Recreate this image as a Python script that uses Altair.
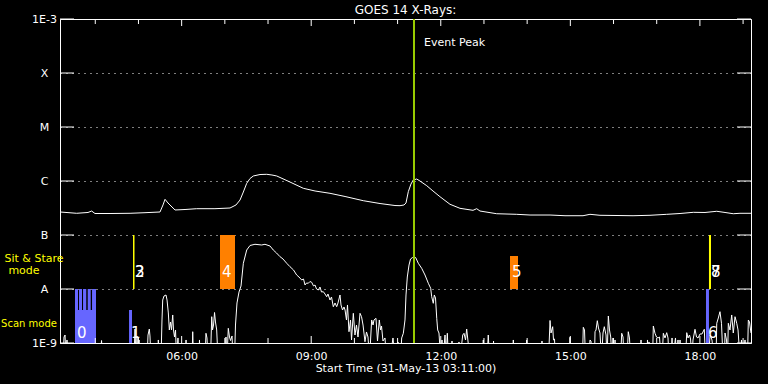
import altair as alt
import pandas as pd

W, H = 691, 324
F = "DejaVu Sans"
B = -9.3  # below the 1E-9 floor (clipped)

# time: minutes after 31-May-13 03:11:00 ; value: log10(flux)
upper = [
    (0, -6.574), (23.2, -6.598), (38.9, -6.583), (44.0, -6.556), (48.6, -6.602), (69.5, -6.602),
    (97.3, -6.598), (118.1, -6.587), (138.9, -6.574), (143.1, -6.444), (145.9, -6.339), (150.0, -6.407),
    (159.8, -6.537), (173.7, -6.528), (189.9, -6.513), (215.3, -6.513), (236.2, -6.500), (244.5, -6.444),
    (250.1, -6.352), (254.7, -6.204), (259.4, -6.043), (264.0, -5.954), (268.6, -5.907), (277.9, -5.880),
    (287.2, -5.876), (294.5, -5.889), (301.1, -5.907), (319.5, -6.019), (338.0, -6.135), (354.3, -6.185),
    (375.1, -6.228), (396.0, -6.287), (421.4, -6.365), (444.6, -6.417), (465.4, -6.454), (472.4, -6.457),
    (477.9, -6.444), (480.7, -6.407), (483.9, -6.198), (487.6, -6.056), (490.8, -5.981), (495.6, -5.963),
    (500.1, -6.000), (509.5, -6.087), (518.2, -6.185), (527.9, -6.291), (541.8, -6.431), (555.7, -6.506),
    (573.8, -6.543), (578.9, -6.513), (583.5, -6.556), (606.7, -6.606), (634.5, -6.617), (653.0, -6.630),
    (680.8, -6.630), (701.6, -6.643), (726.6, -6.643), (736.3, -6.617), (750.2, -6.635), (796.1, -6.643),
    (819.7, -6.635), (842.9, -6.617), (861.4, -6.602), (879.8, -6.580), (896.1, -6.583), (912.4, -6.561),
    (923.9, -6.583), (935.4, -6.606), (944.7, -6.598), (960, -6.598),
]

lower = [
    (0, B), (4.2, B), (5.6, -8.889), (7.0, -8.852), (8.3, B), (9.7, -8.944), (11.1, B),
    (19.5, B), (51.4, B), (55.6, B), (57.7, -8.954), (59.1, B),
    (94.5, B), (102.8, B), (104.2, -8.741), (105.6, B), (107.0, -8.870), (108.4, B), (109.8, -8.944), (111.1, B),
    (120.9, B), (122.3, -8.852), (124.1, -8.741), (125.0, -8.870), (126.4, B), (136.2, B), (136.6, -8.944), (137.5, B),
    (140.3, B), (141.7, -8.574), (142.7, -8.204), (144.5, -8.130), (147.3, -8.111), (148.7, -8.204),
    (150.5, -8.444), (151.9, -8.759), (153.5, -8.611), (154.9, -8.759), (156.6, -8.481), (157.7, -8.759),
    (159.1, -8.889), (160.5, -8.759), (161.9, B), (163.9, -8.907), (165.3, B), (173.7, B), (175.1, -8.944), (176.4, B),
    (183.4, B), (184.4, -8.791), (185.5, B), (193.1, B), (193.8, -8.944), (194.5, B),
    (201.5, B), (202.8, -8.820), (204.2, -8.907), (205.6, B),
    (209.1, B), (210.8, -8.513), (211.9, -8.759), (213.3, -8.667), (214.7, -8.435), (216.0, -8.611), (217.7, -8.759), (219.5, B),
    (229.2, B), (230.6, -8.889), (232.0, B), (233.8, -8.728), (235.5, -8.889), (236.9, -8.954), (239.0, -8.870), (240.4, B), (242.4, B),
    (243.8, -8.667), (245.9, -8.259), (248.7, -8.056), (251.5, -7.944), (254.7, -7.524), (259.4, -7.278),
    (264.0, -7.194), (270.9, -7.172), (280.2, -7.185), (284.8, -7.172), (291.8, -7.204), (296.3, -7.278),
    (300.8, -7.333), (305.7, -7.402), (309.8, -7.444), (315.0, -7.524), (319.5, -7.587), (324.4, -7.648),
    (328.8, -7.741), (332.0, -7.778), (335.8, -7.833), (338.3, -7.815), (340.4, -7.926), (342.5, -7.889),
    (345.0, -7.894), (347.3, -7.861), (349.7, -7.876), (352.2, -7.944), (354.3, -7.926), (356.4, -8.0),
    (358.9, -8.019), (361.2, -7.963), (363.3, -8.056), (365.8, -8.050), (368.2, -8.093), (370.5, -8.143),
    (372.3, -8.093), (375.1, -8.204), (377.2, -8.148), (379.7, -8.328), (382.1, -8.259), (384.4, -8.328),
    (386.2, -8.259), (389.0, -8.111), (390.4, -8.296), (392.5, -8.389), (394.6, -8.333), (396.0, -8.389),
    (398.0, -8.574), (399.4, -8.296), (401.5, -8.791), (403.6, -8.574), (405.0, -8.944), (407.5, -8.450),
    (409.8, -8.852), (411.9, -8.667), (414.0, -8.889), (416.8, -8.450), (418.9, -8.513), (421.0, -8.667),
    (423.7, -8.976), (425.8, -8.796), (427.9, -8.889), (430.0, B), (433.0, -8.574), (434.9, -8.667),
    (436.2, -8.574), (439.0, -8.543), (441.1, -8.963), (443.6, -8.574), (445.3, -8.759), (446.7, -8.685),
    (448.7, -8.963), (451.5, -8.907), (453.6, B), (458.5, B), (462.6, -8.907), (465.4, B), (469.6, -8.981), (473.1, B),
    (474.7, -8.907), (477.0, -8.820), (479.3, -8.574), (480.7, -8.111), (482.5, -7.778), (484.9, -7.556),
    (487.0, -7.444), (489.5, -7.420), (491.8, -7.402), (494.2, -7.420), (497.8, -7.524), (502.5, -7.617),
    (507.1, -7.741), (511.7, -7.894), (515.0, -7.987), (516.4, -8.143), (518.6, -8.265), (520.0, -8.111),
    (521.7, -8.167), (523.4, -8.543), (524.7, -8.759), (526.5, -8.815), (528.9, B), (530.7, -8.944), (532.1, B),
    (534.9, -8.852), (536.3, B), (538.1, -8.820), (539.7, B),
    (543.2, B), (544.6, -8.963), (546.0, B), (552.9, B), (554.3, -8.981), (555.7, B), (559.5, -8.852),
    (561.3, -8.820), (563.4, -8.944), (565.0, -8.741), (566.8, -8.963), (569.6, B), (586.3, B), (588.1, -8.944),
    (589.8, B), (593.2, B), (595.0, -8.852), (596.7, B), (601.6, B), (602.3, -8.963), (603.0, B), (628.0, B),
    (629.8, -8.944), (631.4, B), (646.0, B), (648.4, -8.944), (650.2, B), (668.3, B), (669.6, -8.963), (671.0, B),
    (678.7, B), (680.8, -8.583), (682.2, -8.815), (684.5, -8.698), (685.6, -8.944), (687.0, -8.926), (688.4, B),
    (707.2, B), (708.5, -8.894), (709.9, B), (725.9, B), (727.0, -8.709), (728.7, -8.759), (730.1, B),
    (734.9, B), (736.3, -8.944), (737.7, -8.963), (739.1, B), (742.6, B), (743.3, -8.791), (744.7, -8.759),
    (746.5, -8.587), (748.1, -8.722), (750.2, -8.815), (752.3, B), (754.4, -8.815), (756.2, -8.698),
    (758.6, -8.852), (760.0, B), (761.8, -8.500), (763.4, -8.759), (765.1, -8.889), (766.9, B), (768.3, -8.907),
    (769.7, B), (771.1, -8.944), (772.5, B), (778.7, B), (780.4, -8.820), (782.2, -8.889), (783.6, B),
    (787.7, B), (789.5, -8.791), (791.2, -8.907), (792.6, B), (805.8, B), (807.2, -8.944), (808.6, B),
    (815.5, B), (816.2, -8.944), (817.6, B), (818.3, -8.981), (819.7, B), (823.2, B), (824.3, -8.685),
    (826.6, -8.820), (828.7, -8.889), (830.8, -8.907), (832.9, -8.889), (835.0, B), (836.4, B), (838.2, -8.820),
    (840.5, -8.907), (842.9, -8.809), (844.7, -8.907), (846.1, B), (848.9, B), (850.3, -8.907), (851.6, B),
    (855.1, -8.907), (856.5, B), (858.6, -8.944), (860.0, B), (861.4, -8.944), (862.8, B), (869.0, B),
    (870.7, -8.809), (872.5, -8.907), (874.6, -8.852), (876.0, -8.926), (878.0, B), (879.4, -8.944),
    (882.2, -8.746), (884.3, -8.889), (886.4, -8.907), (889.2, -8.833), (891.9, -8.833), (895.1, -8.746),
    (896.8, B), (901.0, B), (903.1, -8.852), (905.8, -8.944), (908.6, B), (911.4, B), (912.4, -8.635),
    (914.6, -8.537), (916.9, -8.420), (919.0, -8.635), (921.1, B), (923.2, B), (923.9, -8.815), (926.0, -8.944),
    (927.4, B), (928.5, -8.635), (930.8, -8.759), (933.2, -8.481), (935.4, -8.815), (937.8, -8.513),
    (940.2, -8.635), (942.0, -8.759), (944.7, B), (946.8, -8.944), (948.9, B), (951.7, -8.944), (953.8, B),
    (955.1, B), (956.3, -8.574), (957.9, -8.611), (960.0, -8.815),
]

# observation markers: start/end minutes, log10 low/high, kind
mk_start = [20.8, 26.4, 32.0, 38.5, 44.5, 20.8, 95.9, 101.4, 222.3, 625.2, 897.5, 901.6]
mk_end = [25.0, 30.6, 36.5, 42.7, 50.0, 50.0, 100.0, 103.5, 243.1, 636.3, 901.6, 904.4]
mk_lo = [-9, -9, -9, -9, -9, -9, -9, -8, -8, -8, -9, -8]
mk_hi = [-8, -8, -8, -8, -8, -8.389, -8.389, -7, -7, -7.389, -8, -7]
mk_kind = ["scan"] * 7 + ["stare", "raster", "raster", "scan", "stare"]

lab_text = ["0", "1", "2", "3", "4", "5", "6", "7", "8"]
lab_min = [20.8, 95.9, 101.4, 101.4, 222.3, 625.2, 897.5, 901.6, 901.6]
lab_log = [-8.815, -8.815, -7.676, -7.676, -7.676, -7.676, -8.815, -7.676, -7.676]

peak_min = 491.8
peak_label_log = -3.444

hour_ticks = [49, 109, 169, 229, 289, 349, 409, 469, 529, 589, 649, 709, 769, 829, 889, 949]
major_ticks = [169, 349, 529, 709, 889]
decades = [-9, -8, -7, -6, -5, -4, -3]

# ---------- frames ----------
def fl(v):
    return 10 ** v

up_df = pd.DataFrame(upper, columns=["m", "lg"]); up_df["ch"] = "long"
lo_df = pd.DataFrame(lower, columns=["m", "lg"]); lo_df["ch"] = "lower"
curves = pd.concat([up_df, lo_df], ignore_index=True)
curves["flux"] = curves["lg"].map(fl)

mk = pd.DataFrame({"m": mk_start, "m2": mk_end,
                   "flux": [fl(v) for v in mk_lo], "flux2": [fl(v) for v in mk_hi],
                   "kind": mk_kind})
labs = pd.DataFrame({"t": lab_text, "m": lab_min, "flux": [fl(v) for v in lab_log]})
minor = pd.DataFrame({"m": [t for t in hour_ticks if t not in major_ticks]})
major = pd.DataFrame({"m": major_ticks})
dec = pd.DataFrame({"flux": [fl(v) for v in decades]})

xs = alt.Scale(domain=[0, 960], nice=False, zero=False)
ys = alt.Scale(type="log", domain=[1e-9, 1e-3], nice=False)

XTITLE = "Start Time (31-May-13 03:11:00)"
xaxis = alt.Axis(values=major_ticks,
                 labelExpr="format(floor((datum.value+191)/60),'02d')+':00'",
                 ticks=False, tickSize=0, domain=False, grid=False,
                 labelColor="white", labelFont=F, labelFontSize=11, labelPadding=7,
                 title=XTITLE, titleColor="white", titleFont=F,
                 titleFontSize=11, titleFontWeight="normal", titleY=25, titleBaseline="middle")
yaxis = alt.Axis(values=[fl(v) for v in decades],
                 labelExpr="['1E-9','A','B','C','M','X','1E-3'][round(log(datum.value)/LN10)+9]",
                 ticks=False, tickSize=0, domain=False, grid=True, gridColor="white",
                 gridDash=[1, 5], gridWidth=1, gridOpacity=1,
                 labelColor="white", labelFont=F, labelFontSize=11, labelAlign="center",
                 labelBaseline="middle", labelPadding=16, title=None)


def Xn(f="m"):
    return alt.X(f"{f}:Q", scale=xs, axis=xaxis, title=XTITLE)


def Yn(f="flux"):
    return alt.Y(f"{f}:Q", scale=ys, axis=yaxis, title=None)


lines = alt.Chart(curves).mark_line(color="white", strokeWidth=1, clip=True).encode(
    x=Xn(), y=Yn(), detail="ch:N",
)

rects = alt.Chart(mk).mark_rect(clip=True).encode(
    x=Xn(), x2="m2:Q", y=Yn(), y2="flux2:Q",
    color=alt.Color("kind:N", scale=alt.Scale(domain=["scan", "stare", "raster"],
                                              range=["#6666FF", "#FFFF00", "#FF8000"]), legend=None),
)

peak = alt.Chart(pd.DataFrame({"m": [peak_min]})).mark_rule(color="#99CC00", strokeWidth=2).encode(x=Xn())
peak_txt = alt.Chart(pd.DataFrame({"m": [peak_min], "flux": [fl(peak_label_log)], "t": ["Event Peak"]})).mark_text(
    color="white", font=F, fontSize=11, align="left", baseline="middle", dx=10).encode(x=Xn(), y=Yn(), text="t:N")

nums = alt.Chart(labs).mark_text(color="white", font=F, fontSize=15, align="left", baseline="middle", dx=2).encode(
    x=Xn(), y=Yn(), text="t:N")

side = []
for txt, lg, px, fs in [("Sit & Stare", -7.444, -26, 11), ("mode", -7.667, -36, 11), ("Scan mode", -8.648, -31, 10)]:
    side.append(alt.Chart(pd.DataFrame({"flux": [fl(lg)], "t": [txt]})).mark_text(
        color="#FFFF00", font=F, fontSize=fs, align="center", baseline="middle").encode(
        x=alt.value(px), y=Yn(), text="t:N"))

tick_layers = [
    alt.Chart(minor).mark_rule(color="white").encode(x=Xn(), y=alt.value(0), y2=alt.value(5)),
    alt.Chart(major).mark_rule(color="white").encode(x=Xn(), y=alt.value(0), y2=alt.value(7)),
    alt.Chart(minor).mark_rule(color="white").encode(x=Xn(), y=alt.value(H), y2=alt.value(H - 5)),
    alt.Chart(major).mark_rule(color="white").encode(x=Xn(), y=alt.value(H), y2=alt.value(H - 7)),
    alt.Chart(dec).mark_rule(color="white").encode(y=Yn(), x=alt.value(0), x2=alt.value(14)),
    alt.Chart(dec).mark_rule(color="white").encode(y=Yn(), x=alt.value(W - 14), x2=alt.value(W)),
]

chart = alt.layer(lines, rects, peak, peak_txt, nums, *side, *tick_layers).properties(
    width=W, height=H,
    background="black",
    autosize=alt.AutoSizeParams(type="none"),
    padding={"left": 60, "top": 19, "right": 17, "bottom": 41},
    title=alt.TitleParams("GOES 14 X-Rays:", color="white", font=F, fontSize=12,
                          fontWeight="normal", offset=-4, anchor="middle"),
).configure_view(stroke="white", strokeWidth=1)

chart.save("out.html", embed_options={"renderer": "svg", "actions": False})
